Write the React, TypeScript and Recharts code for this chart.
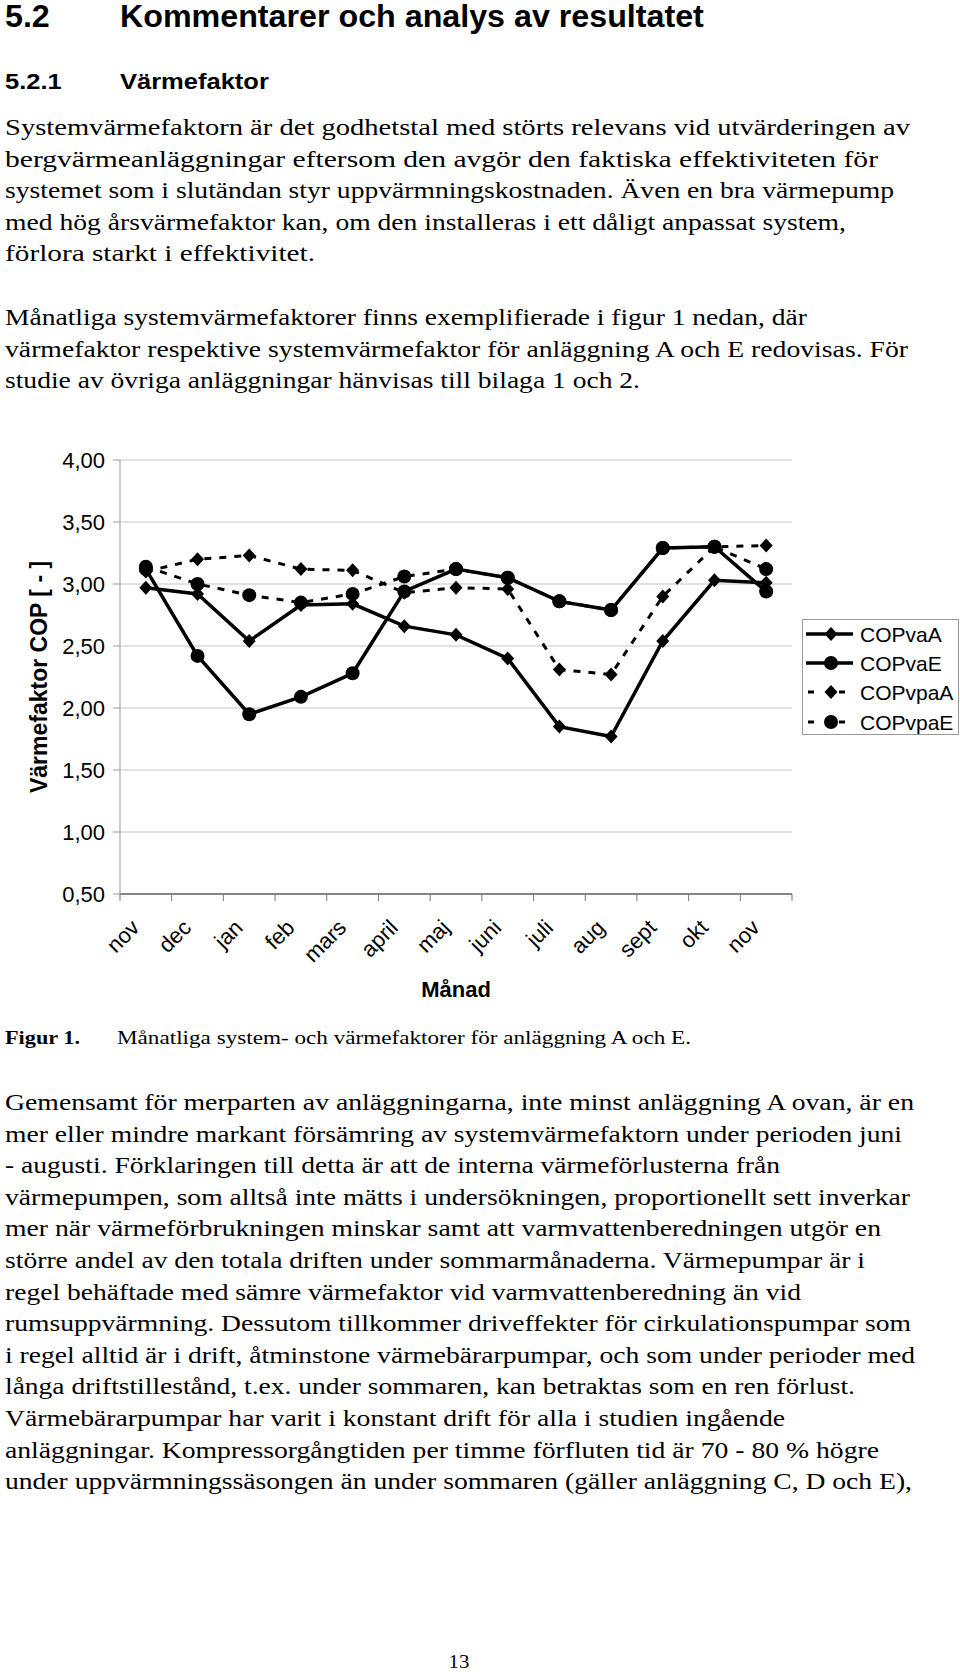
import React from "react";
import { LineChart, Line, XAxis, YAxis, CartesianGrid, Legend, Label } from "recharts";

// monthly values
const months = ["nov", "dec", "jan", "feb", "mars", "april", "maj", "juni", "juli", "aug", "sept", "okt", "nov"];
const copVaA = [2.97, 2.92, 2.54, 2.83, 2.84, 2.66, 2.59, 2.4, 1.85, 1.77, 2.54, 3.03, 3.01];
const copVaE = [3.12, 2.42, 1.95, 2.09, 2.28, 2.94, 3.12, 3.05, 2.86, 2.79, 3.29, 3.3, 2.94];
const copVpaA = [3.1, 3.2, 3.23, 3.12, 3.11, 2.93, 2.97, 2.96, 2.31, 2.27, 2.9, 3.3, 3.31];
const copVpaE = [3.14, 3.0, 2.91, 2.85, 2.92, 3.06, 3.12, 3.05, 2.86, 2.79, 3.29, 3.3, 3.12];
const yTicks = [0.5, 1, 1.5, 2, 2.5, 3, 3.5, 4];

const seriesNames = ["COPvaA", "COPvaE", "COPvpaA", "COPvpaE"];
const seriesKeys = ["copVaA", "copVaE", "copVpaA", "copVpaE"];
const seriesDashed = [false, false, true, true];
const seriesMarker = ["diamond", "circle", "diamond", "circle"];

const data = months.map((m, i) => ({
  idx: i,
  copVaA: copVaA[i],
  copVaE: copVaE[i],
  copVpaA: copVpaA[i],
  copVpaE: copVpaE[i],
}));

const para1 = [
  "Systemvärmefaktorn är det godhetstal med störts relevans vid utvärderingen av",
  "bergvärmeanläggningar eftersom den avgör den faktiska effektiviteten för",
  "systemet som i slutändan styr uppvärmningskostnaden. Även en bra värmepump",
  "med hög årsvärmefaktor kan, om den installeras i ett dåligt anpassat system,",
  "förlora starkt i effektivitet.",
];
const para2 = [
  "Månatliga systemvärmefaktorer finns exemplifierade i figur 1 nedan, där",
  "värmefaktor respektive systemvärmefaktor för anläggning A och E redovisas. För",
  "studie av övriga anläggningar hänvisas till bilaga 1 och 2.",
];
const para3 = [
  "Gemensamt för merparten av anläggningarna, inte minst anläggning A ovan, är en",
  "mer eller mindre markant försämring av systemvärmefaktorn under perioden juni",
  "- augusti. Förklaringen till detta är att de interna värmeförlusterna från",
  "värmepumpen, som alltså inte mätts i undersökningen, proportionellt sett inverkar",
  "mer när värmeförbrukningen minskar samt att varmvattenberedningen utgör en",
  "större andel av den totala driften under sommarmånaderna. Värmepumpar är i",
  "regel behäftade med sämre värmefaktor vid varmvattenberedning än vid",
  "rumsuppvärmning. Dessutom tillkommer driveffekter för cirkulationspumpar som",
  "i regel alltid är i drift, åtminstone värmebärarpumpar, och som under perioder med",
  "långa driftstillestånd, t.ex. under sommaren, kan betraktas som en ren förlust.",
  "Värmebärarpumpar har varit i konstant drift för alla i studien ingående",
  "anläggningar. Kompressorgångtiden per timme förfluten tid är 70 - 80 % högre",
  "under uppvärmningssäsongen än under sommaren (gäller anläggning C, D och E),",
];
// right edge of each printed line on the page
const para1End = [910, 878, 894, 846, 315];
const para2End = [807, 908, 640];
const para3End = [914, 902, 780, 910, 881, 865, 801, 911, 915, 855, 785, 879, 912];

const SERIF = "'Liberation Serif', 'Times New Roman', serif";
const SANS = "'Liberation Sans', Arial, sans-serif";
const LINE_H = 31.6;
const TEXT_X = 5;

const CHART_W = 960;
const CHART_H = 580;
const PLOT_W = 672;
const BAND = PLOT_W / months.length;

function TLine({ x, y, size, sx = 1, bold = false, family = SERIF, anchor = "start", width, children }: any) {
  return (
    <text
      transform={`translate(${x} ${y}) scale(${sx} 1)`}
      fontSize={size}
      fontFamily={family}
      fontWeight={bold ? "bold" : "normal"}
      textAnchor={anchor}
      textLength={width}
      lengthAdjust={width ? "spacingAndGlyphs" : undefined}
      fill="#000"
    >
      {children}
    </text>
  );
}

function Marker({ cx, cy, type }: any) {
  if (cx == null || cy == null) return null;
  if (type === "diamond") {
    return <polygon points={`${cx},${cy - 7} ${cx + 6.5},${cy} ${cx},${cy + 7} ${cx - 6.5},${cy}`} fill="#000" />;
  }
  return <circle cx={cx} cy={cy} r={7} fill="#000" />;
}

function MonthTick({ x, y, payload, index }: any) {
  const last = index === months.length - 1;
  const tx = x - 5;
  const ty = y + 28;
  return (
    <g>
      <line x1={x - BAND / 2} y1={y - 7} x2={x - BAND / 2} y2={y} stroke="#777" />
      {last && <line x1={x + BAND / 2} y1={y - 7} x2={x + BAND / 2} y2={y} stroke="#777" />}
      <text
        x={tx}
        y={ty}
        transform={`rotate(-45 ${tx} ${ty})`}
        textAnchor="end"
        fontSize={22}
        fontFamily={SANS}
        fill="#000"
      >
        {months[payload.value]}
      </text>
    </g>
  );
}

function LegendBox() {
  const rows = [15, 44, 73, 103];
  return (
    <svg width={157} height={116} style={{ display: "block" }}>
      <rect x={0.5} y={0.5} width={156} height={115} fill="#fff" stroke="#999" />
      {seriesNames.map((name, i) => {
        const cy = rows[i];
        return (
          <g key={name}>
            {seriesDashed[i] ? (
              <>
                <line x1={6} y1={cy} x2={12} y2={cy} stroke="#000" strokeWidth={3} />
                <line x1={37} y1={cy} x2={43} y2={cy} stroke="#000" strokeWidth={3} />
              </>
            ) : (
              <line x1={4} y1={cy} x2={51} y2={cy} stroke="#000" strokeWidth={3.5} />
            )}
            <Marker cx={29} cy={cy} type={seriesMarker[i]} />
            <text x={58} y={cy + 7.5} fontSize={21} fontFamily={SANS} fill="#000">
              {name}
            </text>
          </g>
        );
      })}
    </svg>
  );
}

function YTitle({ viewBox }: any) {
  const cy = viewBox.y + viewBox.height / 2;
  return (
    <text
      x={47}
      y={cy}
      transform={`rotate(-90 47 ${cy})`}
      textAnchor="middle"
      fontSize={23}
      fontWeight="bold"
      fontFamily={SANS}
      fill="#000"
    >
      Värmefaktor COP [ - ]
    </text>
  );
}

function XTitle({ viewBox }: any) {
  return (
    <text
      x={viewBox.x + viewBox.width / 2}
      y={viewBox.y + 103}
      textAnchor="middle"
      fontSize={22}
      fontWeight="bold"
      fontFamily={SANS}
      fill="#000"
    >
      Månad
    </text>
  );
}

function CopChart() {
  return (
    <LineChart width={CHART_W} height={CHART_H} data={data} margin={{ top: 20, right: 168, left: 0, bottom: 0 }}>
      <CartesianGrid vertical={false} stroke="#c4c4c4" />
      <XAxis
        dataKey="idx"
        type="category"
        scale="band"
        height={126}
        tickSize={7}
        tickMargin={0}
        tickLine={false}
        axisLine={{ stroke: "#666", strokeWidth: 1.5 }}
        tick={<MonthTick />}
        interval={0}
      >
        <Label content={<XTitle />} />
      </XAxis>
      <XAxis xAxisId="top" dataKey="idx" orientation="top" height={0} tick={false} tickLine={false} axisLine={{ stroke: "#999" }} />
      <YAxis
        domain={[0.5, 4]}
        ticks={yTicks}
        width={120}
        tickSize={7}
        tickMargin={8}
        tickFormatter={(v: number) => v.toFixed(2).replace(".", ",")}
        tick={{ fontSize: 22, fontFamily: SANS, fill: "#000" }}
        tickLine={{ stroke: "#999" }}
        axisLine={{ stroke: "#999" }}
      >
        <Label content={<YTitle />} />
      </YAxis>
      <YAxis yAxisId="right" orientation="right" width={0} tick={false} tickLine={false} axisLine={{ stroke: "#999" }} />
      <Legend
        layout="vertical"
        align="center"
        verticalAlign="middle"
        wrapperStyle={{ left: 802, top: 179, width: 157, height: 116 }}
        content={<LegendBox />}
      />
      {seriesKeys.map((k, i) => (
        <Line
          key={k}
          dataKey={k}
          name={seriesNames[i]}
          type="linear"
          stroke="#000"
          strokeWidth={seriesDashed[i] ? 3 : 3.5}
          strokeDasharray={seriesDashed[i] ? "7 8" : undefined}
          dot={(p: any) => <Marker key={`${k}-${p.index}`} cx={p.cx} cy={p.cy} type={seriesMarker[i]} />}
          activeDot={false}
          isAnimationActive={false}
        />
      ))}
    </LineChart>
  );
}

export default function App() {
  return (
    <div style={{ position: "absolute", left: 0, top: 0, width: 960, height: 1672, background: "#fff", overflow: "hidden" }}>
      <svg width={960} height={1672} style={{ position: "absolute", left: 0, top: 0 }}>
        <TLine x={5} y={27} size={31} sx={1.04} bold family={SANS}>5.2</TLine>
        <TLine x={120} y={27} size={31} sx={1.04} bold family={SANS}>Kommentarer och analys av resultatet</TLine>
        <TLine x={5} y={89} size={22} sx={1.16} bold family={SANS}>5.2.1</TLine>
        <TLine x={120} y={89} size={22} sx={1.16} bold family={SANS}>Värmefaktor</TLine>
        {para1.map((t, i) => (
          <TLine key={"a" + i} x={TEXT_X} y={135 + i * LINE_H} size={22.7} width={para1End[i] - TEXT_X}>{t}</TLine>
        ))}
        {para2.map((t, i) => (
          <TLine key={"b" + i} x={TEXT_X} y={325 + i * LINE_H} size={22.7} width={para2End[i] - TEXT_X}>{t}</TLine>
        ))}
        <TLine x={5} y={1044} size={18} bold width={75}>Figur 1.</TLine>
        <TLine x={117} y={1044} size={18.5} width={574}>Månatliga system- och värmefaktorer för anläggning A och E.</TLine>
        {para3.map((t, i) => (
          <TLine key={"c" + i} x={TEXT_X} y={1110 + i * LINE_H} size={22.7} width={para3End[i] - TEXT_X}>{t}</TLine>
        ))}
        <TLine x={459} y={1668} size={19} sx={1.1} anchor="middle">13</TLine>
      </svg>
      <div style={{ position: "absolute", left: 0, top: 440 }}>
        <CopChart />
      </div>
    </div>
  );
}
